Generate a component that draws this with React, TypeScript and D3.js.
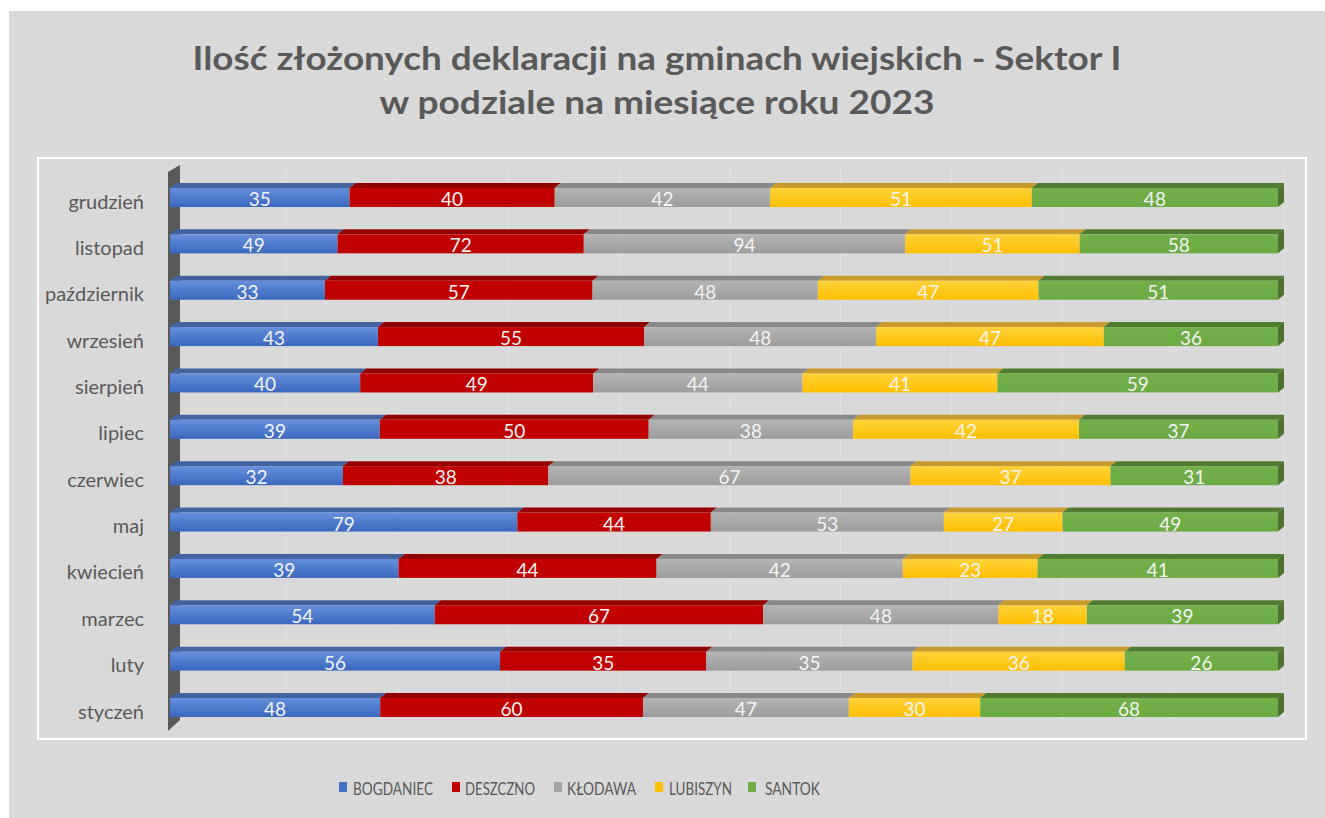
import React from "react";
import * as d3 from "d3";

const months = ["grudzień", "listopad", "październik", "wrzesień", "sierpień", "lipiec", "czerwiec", "maj", "kwiecień", "marzec", "luty", "styczeń"];
const seriesNames = ["BOGDANIEC", "DESZCZNO", "KŁODAWA", "LUBISZYN", "SANTOK"];
const bogdaniec = [35, 49, 33, 43, 40, 39, 32, 79, 39, 54, 56, 48];
const deszczno = [40, 72, 57, 55, 49, 50, 38, 44, 44, 67, 35, 60];
const klodawa = [42, 94, 48, 48, 44, 38, 67, 53, 42, 48, 35, 47];
const lubiszyn = [51, 51, 47, 47, 41, 42, 37, 27, 23, 18, 36, 30];
const santok = [48, 58, 51, 36, 59, 37, 31, 49, 41, 39, 26, 68];
const series = [bogdaniec, deszczno, klodawa, lubiszyn, santok];
const gridTicks = [0.1, 0.2, 0.3, 0.4, 0.5, 0.6, 0.7, 0.8, 0.9, 1.0];

const frontTop = ["#6690dc", "#c40000", "#b4b4b4", "#ffd23a", "#73b04a"];
const frontBot = ["#3a67bf", "#bd0000", "#9c9c9c", "#ffbf00", "#6caa44"];
const topFace = ["#43639f", "#930000", "#898989", "#c99a2c", "#4f7c32"];
const sideFace = ["#3a5a96", "#880000", "#7d7d7d", "#b88d20", "#4a7430"];
const legendColors = ["#4472c4", "#c00000", "#a5a5a5", "#ffc000", "#70ad47"];

const FONT = "Lato, 'Open Sans', sans-serif";
const TEXT = "#595959";

export default function App() {
  const W = 1325, H = 818;
  const x = d3.scaleLinear().domain([0, 1]).range([170, 1278]);
  const y = d3.scalePoint<string>().domain(months).range([197.5, 707.5]);
  const barH = 19;
  const dx = 6, dy = 5;

  const stacked = months.map((m, i) => {
    const vals = series.map((s) => s[i]);
    const total = d3.sum(vals);
    let acc = 0;
    return vals.map((v, k) => {
      const x0 = acc / total;
      acc += v;
      return { m, k, v, x0, x1: acc / total };
    });
  });

  const legendItems = [
    { sq: 339, tx: 353, w: 80 },
    { sq: 452, tx: 465, w: 70 },
    { sq: 554, tx: 567, w: 69 },
    { sq: 655, tx: 669, w: 63 },
    { sq: 748, tx: 765, w: 55 },
  ];

  return (
    <svg width={W} height={H} style={{ position: "absolute", left: 0, top: 0 }}>
      <defs>
        {series.map((_, k) => (
          <linearGradient key={k} id={`g${k}`} x1="0" y1="0" x2="0" y2="1">
            <stop offset="0" stopColor={frontTop[k]} />
            <stop offset="1" stopColor={frontBot[k]} />
          </linearGradient>
        ))}
      </defs>
      <rect x={0} y={0} width={W} height={H} fill="#ffffff" />
      <rect x={9} y={11} width={W - 9} height={H - 11} fill="#d9d9d9" />
      <text x={657} y={70} textAnchor="middle" fontFamily={FONT} fontWeight={700} fontSize={33} fill={TEXT} textLength={929} lengthAdjust="spacingAndGlyphs">
        Ilość złożonych deklaracji na gminach wiejskich - Sektor I
      </text>
      <text x={657} y={114} textAnchor="middle" fontFamily={FONT} fontWeight={700} fontSize={33} fill={TEXT} textLength={555} lengthAdjust="spacingAndGlyphs">
        w podziale na miesiące roku 2023
      </text>
      <rect x={38} y={158} width={1268} height={581} fill="none" stroke="#ffffff" strokeWidth={2} />
      {gridTicks.map((t) => (
        <line key={t} x1={x(t) + dx} x2={x(t) + dx} y1={166} y2={722} stroke="#e2e2e2" strokeWidth={1} />
      ))}
      <polygon points="168,172 180,165 180,720 168,731" fill="#595959" />
      {stacked.map((row) => {
        const cy = y(row[0].m)!;
        const yt = cy - barH / 2;
        const yb = cy + barH / 2;
        return (
          <g key={row[0].m}>
            {row.map((s) => {
              const a = x(s.x0), b = x(s.x1);
              return (
                <g key={s.k}>
                  <polygon points={`${a},${yt} ${b},${yt} ${b + dx},${yt - dy} ${a + dx},${yt - dy}`} fill={topFace[s.k]} />
                  <rect x={a} y={yt} width={b - a} height={barH} fill={`url(#g${s.k})`} />
                  {s.k === 4 && (
                    <polygon points={`${b},${yt} ${b + dx},${yt - dy} ${b + dx},${yb - dy} ${b},${yb}`} fill={sideFace[s.k]} />
                  )}
                  <text x={(a + b) / 2} y={cy + 1} textAnchor="middle" dominantBaseline="central" fontFamily={FONT} fontSize={19} fill="#f4f4f4">
                    {s.v}
                  </text>
                </g>
              );
            })}
          </g>
        );
      })}
      {months.map((m) => (
        <text key={m} x={144} y={y(m)! + 3} textAnchor="end" dominantBaseline="central" fontFamily={FONT} fontSize={20} fill={TEXT}>
          {m}
        </text>
      ))}
      {seriesNames.map((n, k) => (
        <g key={n}>
          <rect x={legendItems[k].sq} y={782} width={8} height={10} fill={legendColors[k]} />
          <text x={legendItems[k].tx} y={788} dominantBaseline="central" fontFamily={FONT} fontSize={18} fill={TEXT} textLength={legendItems[k].w} lengthAdjust="spacingAndGlyphs">
            {n}
          </text>
        </g>
      ))}
    </svg>
  );
}
